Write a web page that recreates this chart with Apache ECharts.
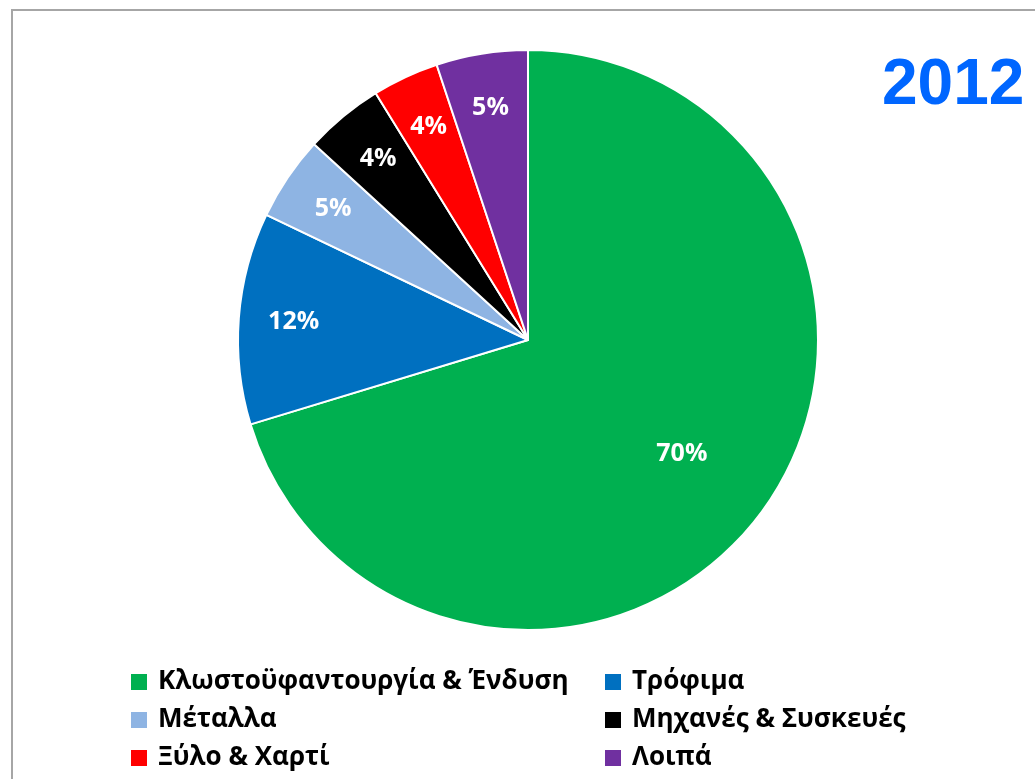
<!DOCTYPE html>
<html>
<head>
<meta charset="utf-8">
<script src="https://cdn.jsdelivr.net/npm/echarts@6/dist/echarts.min.js"></script>
<style>
  html, body { margin: 0; padding: 0; background: #fff; }
  #main { width: 1035px; height: 779px; }
</style>
</head>
<body>
<div id="main"></div>
<script>
// κλάδοι και μερίδια (2012)
var categories = ['Κλωστοϋφαντουργία & Ένδυση', 'Τρόφιμα', 'Μέταλλα', 'Μηχανές & Συσκευές', 'Ξύλο & Χαρτί', 'Λοιπά']
var shares = [70.3, 11.8, 4.7, 4.4, 3.7, 5.1]
var colors = ['#00B050', '#0070C0', '#8EB4E3', '#000000', '#FF0000', '#7030A0']
var yearLabel = '2012'

var leftCol = [categories[0], categories[2], categories[4]]
var rightCol = [categories[1], categories[3], categories[5]]

var pieData = categories.map(function (name, i) {
    return { name: name, value: shares[i], itemStyle: { color: colors[i] } }
})

var font = '"Open Sans", "Noto Sans", sans-serif'
var pctLabel = function (p) { return Math.round(p.percent) + '%' }

// label-only overlay: shows labels for a subset of slices
function labelSeries(inner, showFn) {
    return {
        type: 'pie',
        center: [528, 340],
        radius: [inner, 290],
        startAngle: 90,
        silent: true,
        legendHoverLink: false,
        itemStyle: { color: 'transparent', borderWidth: 0 },
        emphasis: { disabled: true },
        label: {
            position: 'inside',
            formatter: pctLabel,
            color: '#fff',
            fontFamily: font,
            fontWeight: 'bold',
            fontSize: 25
        },
        labelLine: { show: false },
        data: categories.map(function (name, i) {
            return { name: name, value: shares[i], label: { show: showFn(i) } }
        })
    }
}

function legendCol(data, left) {
    return {
        data: data,
        orient: 'vertical',
        left: left,
        top: 669,
        padding: 0,
        itemWidth: 18,
        itemHeight: 18,
        itemGap: 12,
        icon: 'rect',
        selectedMode: false,
        textStyle: {
            fontFamily: font, fontWeight: 'bold', fontSize: 26, lineHeight: 22,
            color: '#000', padding: [0, 0, 0, 5]
        }
    }
}

var chart = echarts.init(document.getElementById('main'))
chart.setOption({
    animation: false,
    backgroundColor: '#fff',
    graphic: [
        {
            type: 'rect',
            shape: { x: 12, y: 10, width: 1100, height: 900 },
            style: { fill: 'none', stroke: '#a6a6a6', lineWidth: 2 },
            silent: true
        },
        {
            type: 'text',
            left: 882,
            top: 54,
            style: {
                text: yearLabel,
                fill: '#0066FF',
                font: 'bold 64px "Liberation Sans", Arial, sans-serif'
            }
        }
    ],
    legend: [legendCol(leftCol, 129), legendCol(rightCol, 603)],
    series: [
        {
            type: 'pie',
            center: [528, 340],
            radius: 290,
            startAngle: 90,
            itemStyle: { borderColor: '#fff', borderWidth: 2 },
            label: { show: false },
            labelLine: { show: false },
            emphasis: { disabled: true },
            data: pieData
        },
        labelSeries(174, function (i) { return i !== 0 }),
        labelSeries(87, function (i) { return i === 0 })
    ]
})
</script>
</body>
</html>
